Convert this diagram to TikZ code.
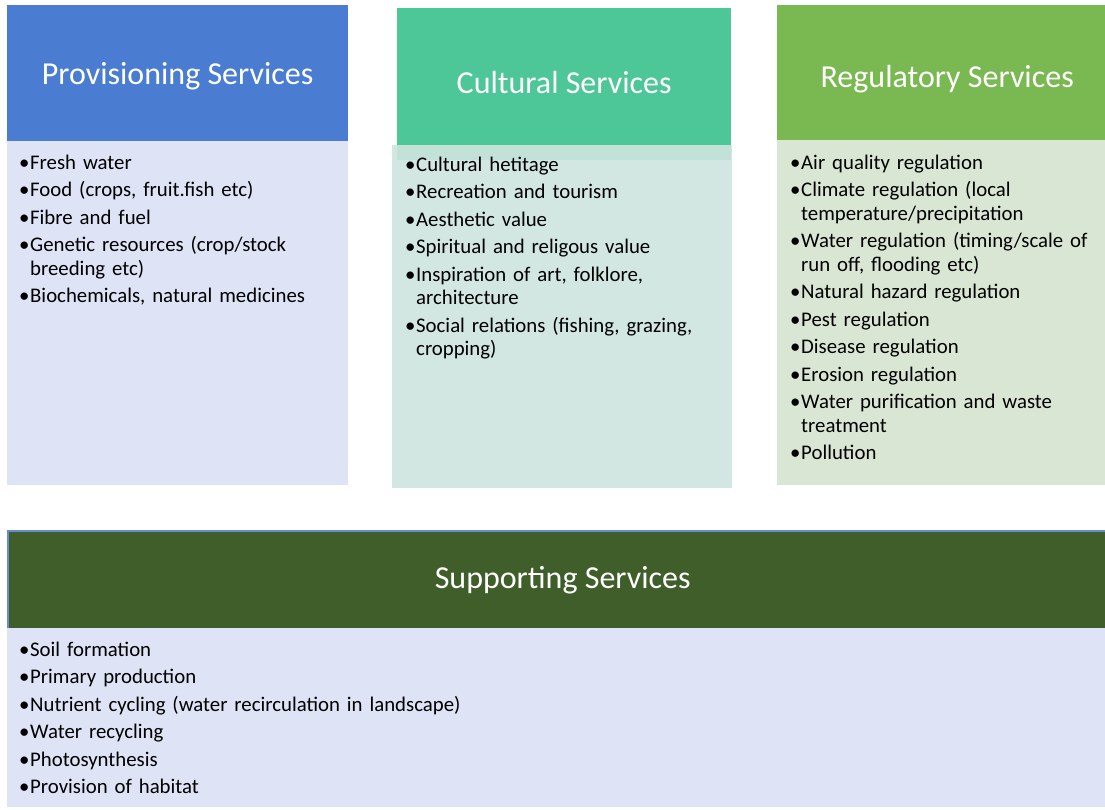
\documentclass[tikz,border=0pt]{standalone}
\usepackage{fontspec}
\setmainfont{Carlito}
\usetikzlibrary{positioning}
\definecolor{provblue}{RGB}{74,124,210}
\definecolor{provpale}{RGB}{222,227,246}
\definecolor{cultgreen}{RGB}{77,199,151}
\definecolor{cultpale}{RGB}{207,229,223}
\definecolor{reggreen}{RGB}{122,184,81}
\definecolor{regpale}{RGB}{218,230,212}
\definecolor{supgreen}{RGB}{63,94,41}
\definecolor{supedge}{RGB}{98,140,212}
\newcommand{\bitem}[1]{\par\noindent\hangindent=11pt\hangafter=1\strut\makebox[11pt][l]{\textbullet}#1\par}

\begin{document}
\begin{tikzpicture}[x=1pt,y=-1pt,
  headbox/.style={rectangle, inner sep=0pt, anchor=north west, text=white,
    font=\fontsize{32}{38}\selectfont, text height=22pt, text depth=0pt},
  bodybox/.style={rectangle, inner sep=0pt, anchor=north west},
  listtext/.style={inner sep=0pt, anchor=north west, align=left, text width=#1,
    font=\fontsize{20.8}{23.5}\selectfont,
    execute at begin node=\setlength{\parskip}{4pt}},
  listtext/.default=330pt]
  \clip (0,0) rectangle (1105,810);
  \fill[white] (0,0) rectangle (1105,810);

  % top row
  \node[headbox, fill=provblue, minimum width=341pt, minimum height=136pt] (provhead) at (7,5) {Provisioning Services};
  \node[bodybox, fill=provpale, minimum width=341pt, minimum height=344pt] (provbody) at (7,141) {};
  \node[listtext] (provlist) at (19,141.5) {%
    \bitem{Fresh water}
    \bitem{Food (crops, fruit.fish etc)}
    \bitem{Fibre and fuel}
    \bitem{Genetic resources (crop/stock\newline breeding etc)}
    \bitem{Biochemicals, natural medicines}};

  \node[headbox, fill=cultgreen, text depth=4pt, minimum width=334pt, minimum height=152pt] (culthead) at (397,8) {Cultural Services};
  \node[bodybox, fill=cultpale, fill opacity=0.9, minimum width=340pt, minimum height=343pt] (cultbody) at (392,145) {};
  \node[listtext] (cultlist) at (405,143.5) {%
    \bitem{Cultural hetitage}
    \bitem{Recreation and tourism}
    \bitem{Aesthetic value}
    \bitem{Spiritual and religous value}
    \bitem{Inspiration of art, folklore,\newline architecture}
    \bitem{Social relations (fishing, grazing,\newline cropping)}};

  \node[headbox, fill=reggreen, text height=29pt, minimum width=340pt, minimum height=135pt] (reghead) at (777,5) {Regulatory Services};
  \node[bodybox, fill=regpale, minimum width=340pt, minimum height=345pt] (regbody) at (777,140) {};
  \node[listtext] (reglist) at (790,141.5) {%
    \bitem{Air quality regulation}
    \bitem{Climate regulation (local\newline temperature/precipitation}
    \bitem{Water regulation (timing/scale of\newline run off, flooding etc)}
    \bitem{Natural hazard regulation}
    \bitem{Pest regulation}
    \bitem{Disease regulation}
    \bitem{Erosion regulation}
    \bitem{Water purification and waste\newline treatment}
    \bitem{Pollution}};

  % bottom row
  \node[headbox, fill=supgreen, draw=supedge, line width=1.5pt, text depth=4pt, minimum width=1110pt, minimum height=98pt] (suphead) at (7,530) {Supporting Services};
  \node[bodybox, fill=provpale, minimum width=1110pt, minimum height=179pt] (supbody) at (7,628) {};
  \node[listtext=800pt] (suplist) at (19,628.5) {%
    \bitem{Soil formation}
    \bitem{Primary production}
    \bitem{Nutrient cycling (water recirculation in landscape)}
    \bitem{Water recycling}
    \bitem{Photosynthesis}
    \bitem{Provision of habitat}};
\end{tikzpicture}
\end{document}
